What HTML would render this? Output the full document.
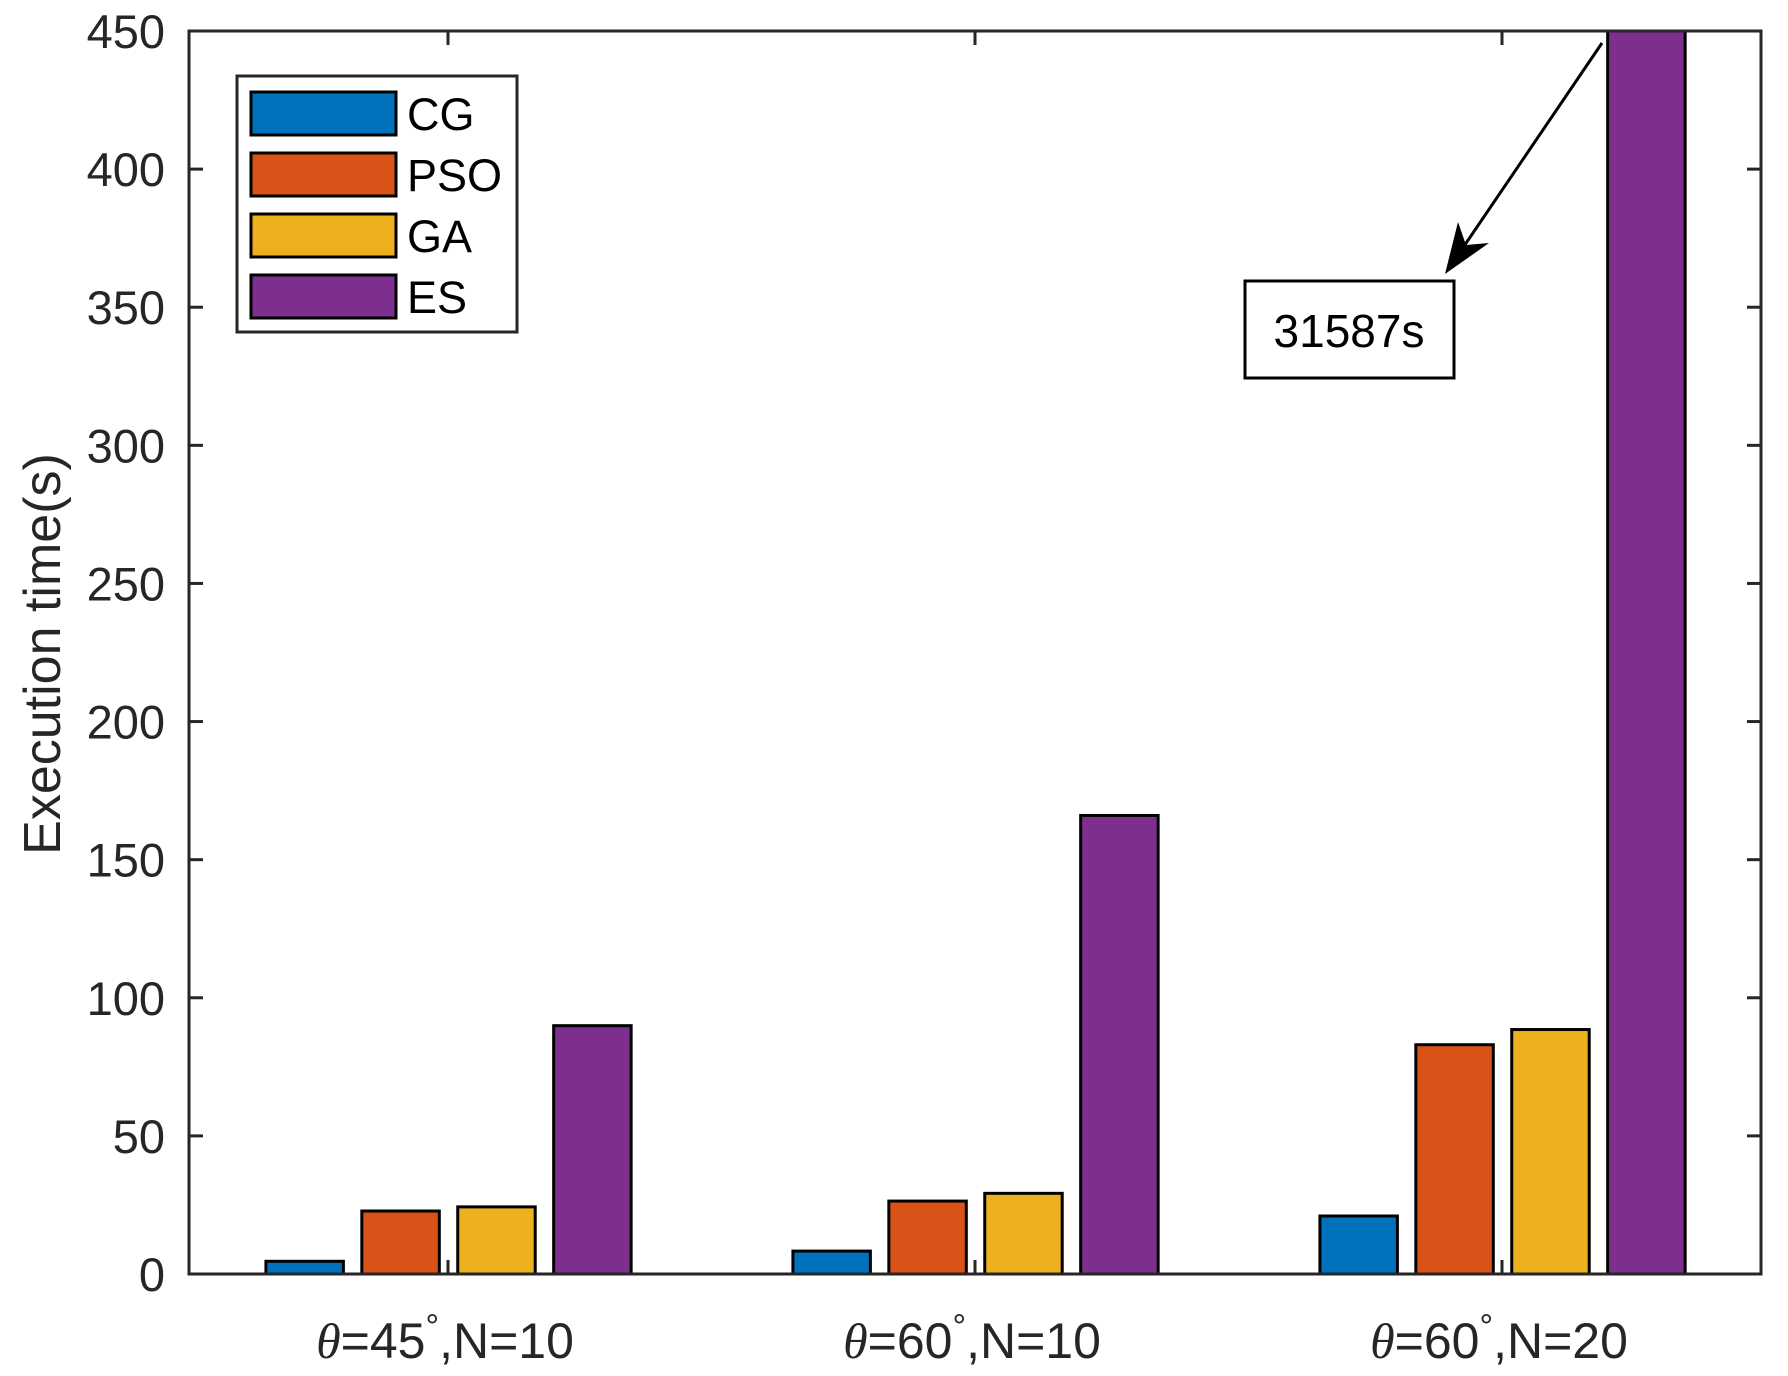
<!DOCTYPE html>
<html><head><meta charset="utf-8"><style>
html,body{margin:0;padding:0;background:#fff;}
svg{display:block;font-family:"Liberation Sans",Arial,sans-serif;}
</style></head><body>
<svg id="chart" width="1788" height="1376" viewBox="0 0 1788 1376" xmlns="http://www.w3.org/2000/svg">
<rect width="1788" height="1376" fill="#fff"/>
<g id="bars"></g>
<g id="axes"></g>
<g id="legend"></g>
<g>
  <line x1="1602" y1="43" x2="1458" y2="255" stroke="#000" stroke-width="3"/>
  <polygon points="1445,274 1458,222 1466,245 1489,243" fill="#000"/>
  <rect x="1245" y="281" width="209" height="97" fill="#fff" stroke="#000" stroke-width="3"/>
  <text x="1349" y="347" font-size="46" text-anchor="middle" fill="#000">31587s</text>
</g>
</svg>
<script>
const categories = ["45,N=10", "60,N=10", "60,N=20"];
const seriesNames = ["CG", "PSO", "GA", "ES"];
const cgValues = [4.6, 8.3, 21];
const psoValues = [22.8, 26.4, 83];
const gaValues = [24.3, 29.2, 88.5];
const esValues = [89.9, 166, 31587];
const yTicks = [0, 50, 100, 150, 200, 250, 300, 350, 400, 450];
const colors = ["#0072BD", "#D95319", "#EDB120", "#7E2F8E"];

const L = 189, R = 1761, T = 31, B = 1274, YMAX = 450;
const unit = 527;
const xScale = c => 975 + (c - 1) * unit;
const yScale = v => B - Math.min(v, YMAX) / YMAX * (B - T);
const NS = "http://www.w3.org/2000/svg";
function mk(tag, attrs, parent) {
  const e = document.createElementNS(NS, tag);
  for (const k in attrs) e.setAttribute(k, attrs[k]);
  parent.appendChild(e);
  return e;
}
const series = [cgValues, psoValues, gaValues, esValues];
const offsets = [-0.272, -0.09, 0.092, 0.274];
const barW = 0.147 * unit;
const gBars = document.getElementById('bars');
series.forEach((vals, s) => {
  vals.forEach((v, c) => {
    const cx = xScale(c) + offsets[s] * unit;
    const y = yScale(v);
    const r = mk('rect', {x: cx - barW / 2, y: y, width: barW, height: B - y, fill: colors[s], stroke: '#000', 'stroke-width': 3}, gBars);
    
    
  });
});
const gAx = document.getElementById('axes');
const box = mk('rect', {x: L, y: T, width: R - L, height: B - T, fill: 'none', stroke: '#262626', 'stroke-width': 3}, gAx);


yTicks.forEach(t => {
  const y = yScale(t);
  const tl = mk('line', {x1: L, x2: L + 14, y1: y, y2: y, stroke: '#262626', 'stroke-width': 3}, gAx);
  
  
  const tr = mk('line', {x1: R, x2: R - 14, y1: y, y2: y, stroke: '#262626', 'stroke-width': 3}, gAx);
  
  
  const lb = mk('text', {x: 165, y: y + 17, 'font-size': 47, 'text-anchor': 'end', fill: '#262626'}, gAx);
  lb.textContent = t;
  
  
});
categories.forEach((cat, c) => {
  const x = xScale(c);
  const tb = mk('line', {x1: x, x2: x, y1: B, y2: B - 14, stroke: '#262626', 'stroke-width': 3}, gAx);
  
  
  const tt = mk('line', {x1: x, x2: x, y1: T, y2: T + 14, stroke: '#262626', 'stroke-width': 3}, gAx);
  
  
  const parts = cat.split(',');
  const lb = mk('text', {x: x - 3, y: 1358, 'font-size': 50, 'text-anchor': 'middle', fill: '#262626'}, gAx);
  
  
  const th = mk('tspan', {'font-family': '"Liberation Serif",serif', 'font-style': 'italic'}, lb);
  th.textContent = 'θ';
  const a = mk('tspan', {}, lb); a.textContent = '=' + parts[0];
  const d = mk('tspan', {dy: -20, 'font-size': 34}, lb); d.textContent = '°';
  const b = mk('tspan', {dy: 20}, lb); b.textContent = ',' + parts[1];
});
const yl = mk('text', {x: 0, y: 0, 'font-size': 52, 'text-anchor': 'middle', fill: '#262626', transform: 'translate(60,654) rotate(-90)'}, gAx);
yl.textContent = 'Execution time(s)';



const gLeg = document.getElementById('legend');
const lbx = mk('rect', {x: 237, y: 76, width: 280, height: 256, fill: '#fff', stroke: '#262626', 'stroke-width': 3}, gLeg);


seriesNames.forEach((n, i) => {
  const cy = 113 + i * 61;
  const p = mk('rect', {x: 251, y: cy - 21, width: 145, height: 43, fill: colors[i], stroke: '#000', 'stroke-width': 3}, gLeg);
  
  
  const t = mk('text', {x: 407, y: cy + 17, 'font-size': 45, fill: '#000'}, gLeg);
  t.textContent = n;
  
  
});
</script>
</body></html>
